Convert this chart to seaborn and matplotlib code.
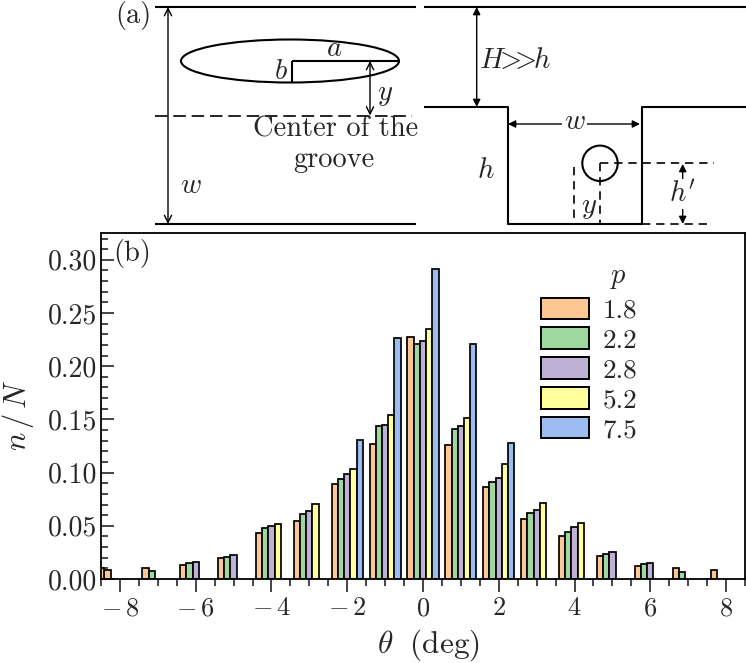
import numpy as np
import pandas as pd
import seaborn as sns
import matplotlib.pyplot as plt
from matplotlib.patches import Ellipse, Circle, Patch
from matplotlib.ticker import MultipleLocator, FixedLocator

sns.set_style("white")
plt.rcParams['font.family'] = ['cmr10', 'DejaVu Serif']
plt.rcParams['mathtext.fontset'] = 'cm'
plt.rcParams['axes.unicode_minus'] = False

nan = np.nan
theta = list(range(-8, 9))
p_labels = ['1.8', '2.2', '2.8', '5.2', '7.5']
colors = ['#FDC794', '#9FD89F', '#BFB0D6', '#FFFF9E', '#9DBDF2']
p18 = [0.0085, 0.0103, 0.0132, 0.0200, 0.0430, 0.0548, 0.0890, 0.1266, 0.2270,
       0.1256, 0.0868, 0.0567, 0.0407, 0.0219, 0.0125, 0.0106, 0.0087]
p22 = [nan, 0.0075, 0.0147, 0.0210, 0.0476, 0.0608, 0.0937, 0.1441, 0.2205,
       0.1407, 0.0908, 0.0617, 0.0445, 0.0238, 0.0141, 0.0069, nan]
p28 = [nan, nan, 0.0157, 0.0228, 0.0495, 0.0639, 0.0987, 0.1447, 0.2237,
       0.1438, 0.0946, 0.0645, 0.0489, 0.0257, 0.0150, nan, nan]
p52 = [nan, nan, nan, nan, 0.0517, 0.0705, 0.1034, 0.1538, 0.2347,
       0.1510, 0.1080, 0.0717, 0.0529, nan, nan, nan, nan]
p75 = [nan, nan, nan, nan, nan, nan, 0.1306, 0.2265, 0.2910,
       0.2209, 0.1281, nan, nan, nan, nan, nan, nan]
# the cut off bar at the left edge of the plot
edge_theta = -8.495
edge_value = 0.0105

W, H = 746, 663
fig = plt.figure(figsize=(W / 100, H / 100), dpi=100)

# (b) histogram
frames = []
for lab, vals in zip(p_labels, [p18, p22, p28, p52, p75]):
    frames.append(pd.DataFrame({'theta': theta, 'n': vals, 'p': lab}))
df = pd.concat(frames, ignore_index=True)

ax = fig.add_axes([101 / W, 1 - 579 / H, 644 / W, 346 / H])
sns.barplot(data=df, x='theta', y='n', hue='p', hue_order=p_labels, palette=colors,
            native_scale=True, width=0.82, gap=0, saturation=1, errorbar=None,
            edgecolor='black', linewidth=1.25, legend=False, ax=ax)
ax.bar([edge_theta], [edge_value], width=0.164, color=colors[0], edgecolor='black', linewidth=1.25)
ax.set_xlim(-8.5, 8.5)
ax.set_ylim(0, 0.3252)
ax.set_xlabel(r'$\theta\;$ (deg)', fontsize=22.5, labelpad=5, x=0.508)
ax.set_ylabel(r'$n\,/\,N$', fontsize=22, labelpad=9, y=0.474)

ax.xaxis.set_major_locator(FixedLocator(range(-8, 9, 2)))
ax.set_xticklabels([f'$-\\,{abs(v)}$' if v < 0 else f'${v}$' for v in range(-8, 9, 2)])
ax.xaxis.set_minor_locator(MultipleLocator(0.5))
ax.set_yticks([0, 0.05, 0.10, 0.15, 0.20, 0.25, 0.30])
ax.set_yticklabels(['0.00', '0.05', '0.10', '0.15', '0.20', '0.25', '0.30'])
ax.yaxis.set_minor_locator(MultipleLocator(0.01))
ax.tick_params(axis='x', which='major', direction='out', length=9.5, width=1.2, labelsize=19, pad=3, bottom=True)
ax.tick_params(axis='x', which='minor', direction='out', length=5, width=1.2, bottom=True)
ax.tick_params(axis='y', which='major', direction='in', length=9.5, width=1.2, labelsize=20, pad=2.5, left=True)
ax.tick_params(axis='y', which='minor', direction='in', length=5, width=1.2, left=True)
for s in ax.spines.values():
    s.set_linewidth(1.3)
    s.set_color('black')

handles = [Patch(facecolor=c, edgecolor='black', linewidth=1.4) for c in colors]
ax.legend(handles, p_labels, frameon=False, fontsize=19.5,
          loc='upper left', bbox_to_anchor=(0.6825, 0.813), borderaxespad=0, borderpad=0,
          handlelength=1.8, handleheight=0.85, handletextpad=0.48, labelspacing=0.17)

# (a) schematic, drawn over the whole figure in pixel units
sk = fig.add_axes([0, 0, 1, 1], facecolor='none')
sk.set_xlim(0, W)
sk.set_ylim(H, 0)
sk.axis('off')
lw = 1.5


def line(xs, ys, **kw):
    kw.setdefault('lw', lw)
    kw.setdefault('color', 'black')
    sk.plot(xs, ys, solid_capstyle='butt', **kw)


def arrow(x0, y0, x1, y1, style, lw=1.0, ms=14):
    sk.annotate('', xy=(x1, y1), xytext=(x0, y0),
                arrowprops=dict(arrowstyle=style, color='black', lw=lw, shrinkA=0, shrinkB=0, mutation_scale=ms))


def label(x, y, s, size=20.5, **kw):
    sk.text(x, y, s, fontsize=size, ha='center', va='center', **kw)


# left part
line([155, 416], [7, 7])
line([155, 416], [224, 224])
line([155, 412], [115.5, 115.5], ls=(0, (7.5, 3.5)), lw=1.2)
arrow(168, 7, 168, 224, '<->', ms=13)
sk.add_patch(Ellipse((290, 61), 218, 43, fill=False, edgecolor='black', lw=lw))
line([292, 398], [61, 61])
line([292, 292], [61, 82])
arrow(370, 61, 370, 115.5, '<->', ms=13)
label(334, 49, r'$a$')
label(281, 72, r'$b$')
label(385, 95, r'$y$')
label(191, 186, r'$w$')
label(336, 129, 'Center of the')
label(334, 160, 'groove')
label(133, 15, '(a)')

# right part
line([424, 746], [7, 7])
line([424, 507.7, 507.7, 641.7, 641.7, 746], [107, 107, 224, 224, 107, 107])
arrow(476.7, 7, 476.7, 107, '<|-|>', ms=11)
arrow(508, 124, 640, 124, '<|-|>', ms=11)
label(515, 61, r'$H\!\!>\!\!\!\!>\!\!h$')
label(574.7, 122, r'$w$', bbox=dict(facecolor='white', edgecolor='none', pad=1))
label(486, 171, r'$h$')
sk.add_patch(Circle((600, 163.3), 17.7, fill=False, edgecolor='black', lw=lw))
dash = (0, (5, 3.5))
line([600, 714], [163.3, 163.3], ls=dash, lw=1.2)
line([573.7, 573.7], [167, 224], ls=dash, lw=1.2)
line([600, 600], [163.3, 224], ls=dash, lw=1.2)
line([642, 712], [224, 224], ls=dash, lw=1.2)
arrow(682.7, 164, 682.7, 224, '<|-|>', ms=11)
label(589, 208, r'$y$', bbox=dict(facecolor='white', edgecolor='none', pad=0.5))
label(683, 194, r"$h'$", bbox=dict(facecolor='white', edgecolor='none', pad=1))

label(132, 253, '(b)')
label(618, 278, r'$p$')

fig.savefig('out.png', dpi=100)
